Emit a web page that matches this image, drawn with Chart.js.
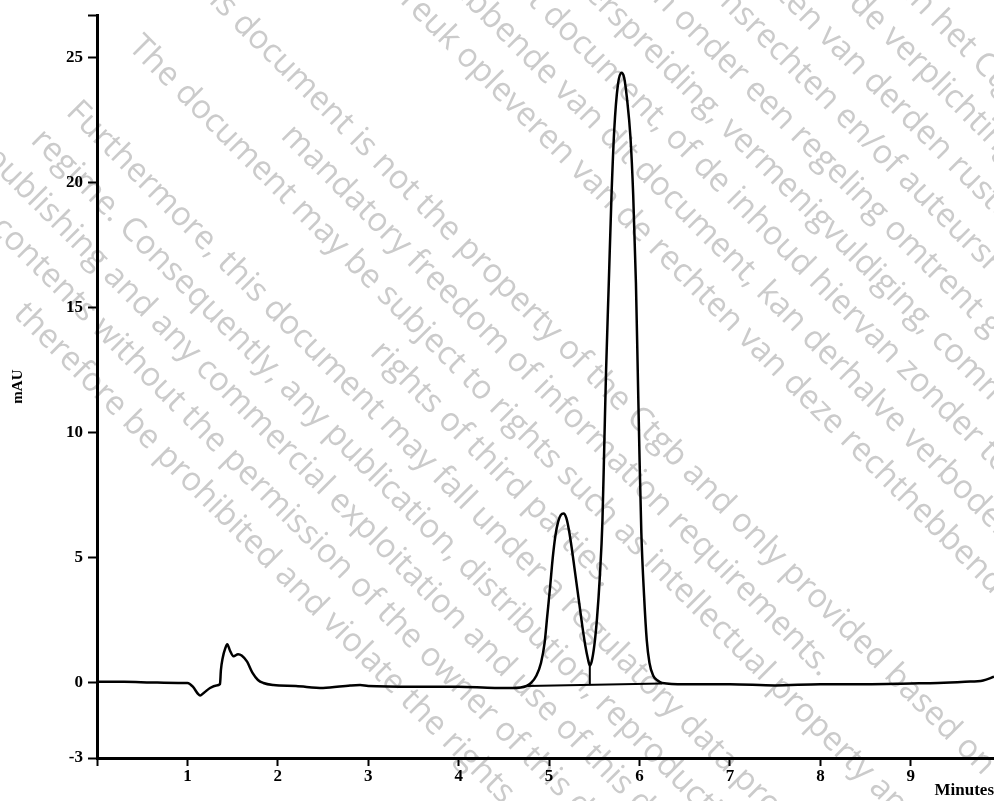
<!DOCTYPE html>
<html>
<head>
<meta charset="utf-8">
<script src="https://cdn.jsdelivr.net/npm/chart.js@4.4.1/dist/chart.umd.min.js"></script>
<style>
  html, body { margin: 0; padding: 0; background: #fff; }
  #chart { display: block; }
</style>
</head>
<body>
<canvas id="chart" width="994" height="801"></canvas>
<script>
// Chromatogram trace (time in minutes, signal in mAU)
const times = [
  0.00, 0.30, 0.60, 0.90, 1.00, 1.06, 1.12, 1.14, 1.18, 1.25, 1.32, 1.36,
  1.37, 1.39, 1.42, 1.44, 1.47, 1.51, 1.56, 1.60, 1.66, 1.72, 1.78, 1.84,
  1.95, 2.20, 2.50, 2.80, 2.91, 3.00, 3.50, 4.00, 4.40, 4.60, 4.75,
  4.80, 4.86, 4.91, 4.95, 4.98, 5.01, 5.04, 5.07, 5.10, 5.13, 5.16, 5.19,
  5.22, 5.25, 5.28, 5.31, 5.34, 5.37, 5.40, 5.43, 5.45, 5.47, 5.50, 5.53,
  5.56, 5.59, 5.61, 5.63, 5.66, 5.69, 5.72, 5.76, 5.80, 5.83, 5.86, 5.90,
  5.93, 5.96, 5.98, 6.00, 6.02, 6.05, 6.08, 6.11, 6.15, 6.20, 6.25,
  6.50, 7.00, 7.50, 8.00, 8.50, 9.00, 9.30, 9.60, 9.80, 9.92
];
const signal = [
  0.05, 0.05, 0.02, 0.00, 0.00, -0.15, -0.45, -0.50, -0.40, -0.20, -0.10, -0.05,
  0.50, 1.00, 1.40, 1.55, 1.30, 1.07, 1.15, 1.10, 0.85, 0.40, 0.12, 0.00,
  -0.08, -0.12, -0.20, -0.10, -0.08, -0.12, -0.15, -0.15, -0.20, -0.20, -0.12,
  0.00, 0.30, 0.80, 1.60, 2.70, 3.80, 5.00, 5.90, 6.45, 6.72, 6.78, 6.60,
  6.10, 5.40, 4.60, 3.80, 3.00, 2.20, 1.50, 0.95, 0.70, 0.85, 1.50, 2.60,
  4.20, 6.50, 9.50, 12.50, 16.00, 19.50, 22.10, 23.90, 24.40, 24.20, 23.40, 21.80,
  19.50, 16.00, 12.50, 9.00, 6.00, 3.50, 1.70, 0.80, 0.30, 0.10, 0.00,
  -0.05, -0.05, -0.10, -0.05, -0.05, -0.02, 0.00, 0.05, 0.10, 0.25
];

// integration baseline under the two peaks and the drop line at the valley
const baseTimes = [4.76, 6.25];
const baseValues = [-0.12, -0.02];
const dropTimes = [5.45, 5.45];
const dropValues = [0.70, -0.08];

// axes
const xTickValues = [0, 1, 2, 3, 4, 5, 6, 7, 8, 9];
const yTickValues = [-3, 0, 5, 10, 15, 20, 25];
const xMin = 0, xMax = 9.92;
const yMin = -3, yMax = 26.7;

// watermark text (Dutch block, then English block)
const wmDutch = [
  ['Dit document is niet het eigendom van het Ctgb en wordt uitsluitend', 'et Ctgb', 693],
  ['ter beschikking gesteld op basis van de verplichting tot openbaarmaking', 'e verplichting', 623],
  ['van informatie. Op dit document kunnen rechten van derden rusten,', 'n van derden', 576],
  ['zoals intellectuele eigendomsrechten en/of auteursrechten. Daarnaast', 'srechten en/of', 530],
  ['kan dit document vallen onder een regeling omtrent gegevensbescherming.', 'onder een', 489],
  ['Iedere openbaarmaking, verspreiding, vermenigvuldiging, commercieel', 'spreiding,', 441],
  ['gebruik van dit document, of de inhoud hiervan zonder toestemming', 'document, of', 394],
  ['van de rechthebbende van dit document, kan derhalve verboden zijn en', 'bende van dit', 350],
  ['inbreuk opleveren van de rechten van deze rechthebbende.', 'euk opleveren', 297]
];
const wmEnglish = [
  'This document is not the property of the Ctgb and only provided based on',
  'mandatory freedom of information requirements.',
  'The document may be subject to rights such as intellectual property and',
  'rights of third parties.',
  'Furthermore, this document may fall under a regulatory data protection',
  'regime. Consequently, any publication, distribution, reproduction and/or',
  'publishing and any commercial exploitation and use of this document or its',
  'contents without the permission of the owner of this document may',
  'therefore be prohibited and violate the rights of its owner.'
];

const toPoints = (xs, ys) => xs.map((x, i) => ({ x: x, y: ys[i] }));

const watermarkPlugin = {
  id: 'watermark',
  beforeDraw(chart) {
    const ctx = chart.ctx;
    ctx.save();
    ctx.fillStyle = '#ffffff';
    ctx.fillRect(0, 0, chart.width, chart.height);

    // size the font so the short English line spans the same length as in the scan
    ctx.font = '100px "Open Sans"';
    const size = 100 * 764 / ctx.measureText(wmEnglish[1]).width;
    ctx.font = size.toFixed(1) + 'px "Open Sans"';
    ctx.fillStyle = '#cbcbcb';
    ctx.textBaseline = 'alphabetic';
    ctx.rotate(Math.PI / 4);

    const step = 45;
    const v0 = -641;
    ctx.textAlign = 'left';
    wmDutch.forEach(([text, anchor, u], i) => {
      const lead = ctx.measureText(text.slice(0, text.indexOf(anchor))).width;
      ctx.fillText(text, u - lead, v0 + i * step);
    });
    ctx.textAlign = 'center';
    wmEnglish.forEach((text, i) => {
      ctx.fillText(text, 677, v0 + (i + 11) * step);
    });
    ctx.restore();
  }
};

const serif = '"Liberation Serif", "Times New Roman", serif';
const labelFont = { family: serif, size: 17, weight: 'bold' };

new Chart(document.getElementById('chart'), {
  type: 'line',
  data: {
    datasets: [
      {
        data: toPoints(times, signal),
        borderColor: '#000',
        borderWidth: 2.5,
        pointRadius: 0,
        cubicInterpolationMode: 'monotone',
        fill: false
      },
      {
        data: toPoints(baseTimes, baseValues),
        borderColor: '#000',
        borderWidth: 2,
        pointRadius: 0,
        fill: false
      },
      {
        data: toPoints(dropTimes, dropValues),
        borderColor: '#000',
        borderWidth: 2,
        pointRadius: 0,
        fill: false
      }
    ]
  },
  options: {
    responsive: false,
    animation: false,
    layout: { padding: { top: 13, right: 0, bottom: 0, left: 0 } },
    plugins: {
      legend: { display: false },
      tooltip: { enabled: false }
    },
    scales: {
      x: {
        type: 'linear',
        min: xMin,
        max: xMax,
        afterFit: (scale) => { scale.height = 43; },
        afterBuildTicks: (scale) => {
          scale.ticks = xTickValues.map(v => ({ value: v }));
        },
        ticks: {
          color: '#000',
          font: labelFont,
          padding: 0,
          maxRotation: 0,
          autoSkip: false,
          callback: (v) => (v === 0 ? '' : v)
        },
        grid: {
          drawOnChartArea: false,
          drawTicks: true,
          tickLength: 8,
          tickWidth: 2,
          tickColor: '#000'
        },
        border: { display: true, color: '#000', width: 3 },
        title: {
          display: true,
          text: 'Minutes',
          align: 'end',
          color: '#000',
          font: { family: serif, size: 17, weight: 'bold' },
          padding: { top: 0, bottom: 0 }
        }
      },
      y: {
        type: 'linear',
        min: yMin,
        max: yMax,
        afterFit: (scale) => { scale.width = 97; },
        afterBuildTicks: (scale) => {
          scale.ticks = yTickValues.concat([yMax]).map(v => ({ value: v }));
        },
        ticks: {
          color: '#000',
          font: labelFont,
          padding: 5,
          autoSkip: false,
          callback: (v) => (v === yMax ? '' : v)
        },
        grid: {
          drawOnChartArea: false,
          drawTicks: true,
          tickLength: 9,
          tickWidth: 2,
          tickColor: '#000'
        },
        border: { display: true, color: '#000', width: 3 },
        title: {
          display: true,
          text: 'mAU',
          color: '#000',
          font: { family: serif, size: 15, weight: 'bold' },
          padding: { top: 9, bottom: 0 }
        }
      }
    }
  },
  plugins: [watermarkPlugin]
});
</script>
</body>
</html>
